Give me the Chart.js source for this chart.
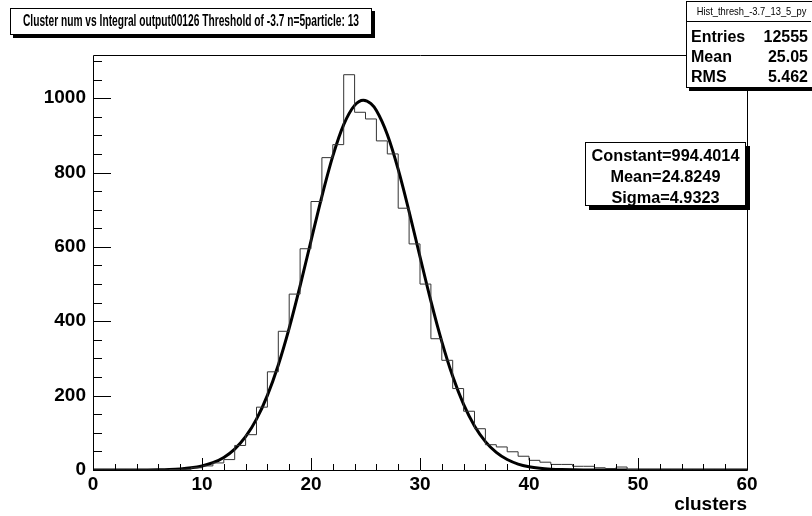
<!DOCTYPE html>
<html>
<head>
<meta charset="utf-8">
<script src="https://cdn.jsdelivr.net/npm/chart.js@4/dist/chart.umd.min.js"></script>
<style>
html,body{margin:0;padding:0;background:#fff;}
#wrap{position:relative;width:812px;height:516px;overflow:hidden;font-family:"Liberation Sans",Arial,Helvetica,sans-serif;color:#000;}
#c{position:absolute;left:0;top:0;}
.box{position:absolute;background:#fff;border:1px solid #000;box-sizing:border-box;}
#title{left:10px;top:8px;width:362px;height:27px;box-shadow:3px 3px 0 #000;}
#title span{position:absolute;left:0;top:3px;white-space:nowrap;font-weight:bold;font-size:16px;line-height:18px;transform-origin:0 0;}
#stats{left:686px;top:1px;width:128px;height:87px;box-shadow:3px 3px 0 #000;}
#stats .hdr{position:absolute;left:0;top:0;width:124px;height:19px;border-bottom:1px solid #000;text-align:center;font-size:11px;line-height:18px;}
#stats .hdr span{display:inline-block;transform:scaleX(0.85);transform-origin:50% 50%;}
#stats .row{position:absolute;left:4px;width:117px;height:20px;font-weight:bold;font-size:16px;line-height:20px;}
#stats .row .k{position:absolute;left:0;top:0;}
#stats .row .v{position:absolute;right:0;top:0;}
#fit{left:585px;top:142px;width:161px;height:64px;box-shadow:4px 4px 0 #000;text-align:center;font-weight:bold;font-size:16.3px;}
#fit div{height:21px;line-height:21px;}
</style>
</head>
<body>
<div id="wrap">
<canvas id="c" width="812" height="516"></canvas>
<div class="box" id="title"><span id="ttxt">Cluster num vs Integral output00126 Threshold of -3.7 n=5particle: 13</span></div>
<div class="box" id="stats">
  <div class="hdr"><span>Hist_thresh_-3.7_13_5_py</span></div>
  <div class="row" style="top:25px"><span class="k">Entries</span><span class="v">12555</span></div>
  <div class="row" style="top:45px"><span class="k">Mean</span><span class="v">25.05</span></div>
  <div class="row" style="top:65px"><span class="k">RMS</span><span class="v">5.462</span></div>
</div>
<div class="box" id="fit">
  <div style="margin-top:2px">Constant=994.4014</div>
  <div>Mean=24.8249</div>
  <div>Sigma=4.9323</div>
</div>
</div>
<script>
// Histogram bin contents, bins [i, i+1) for i = 0..59
const binCounts = [
  0, 0, 0, 0, 0, 0, 0, 1, 2, 6,
  11, 19, 28, 66, 95, 169, 264, 373, 473, 595,
  722, 840, 875, 1063, 962, 944, 885, 850, 704, 608,
  500, 353, 295, 219, 158, 111, 68, 62, 49, 37,
  26, 21, 15, 15, 10, 10, 6, 4, 8, 1,
  0, 0, 0, 0, 0, 0, 0, 0, 0, 0
];
// Gaussian fit curve
const fitX = [0, 4, 5, 6, 7, 8, 9, 10, 11, 12, 13, 14, 15, 16, 17, 18, 19, 20, 21, 22, 23, 24, 24.8, 25.5, 26, 27, 28, 29, 30, 31, 32, 33, 34, 35, 36, 37, 38, 39, 40, 41, 42, 43, 44, 45, 50, 60];
const fitY = [0, 0.1, 0.3, 0.7, 1.5, 3.0, 5.8, 10.9, 19.6, 33.8, 56.2, 89.5, 136.7, 200.7, 282.5, 381.7, 495.1, 616.2, 736.1, 843.9, 928.6, 980.6, 994.4, 985.1, 966.6, 902.2, 808.4, 695.0, 573.5, 454.1, 345.2, 251.8, 176.3, 118.5, 76.4, 47.3, 28.1, 16.0, 8.8, 4.6, 2.3, 1.1, 0.5, 0.2, 0, 0];
const xRange = [0, 60];
const yRange = [0, 1116];
const xLabelStep = 10;
const yLabelStep = 200;
const xAxisTitle = 'clusters';

// fit title text to its box width
(function(){
  const s = document.getElementById('ttxt');
  const w = s.getBoundingClientRect().width;
  const target = 336;
  const k = target / w;
  s.style.transform = 'scaleX(' + k + ')';
  s.style.left = ((362 - target) / 2 - 1) + 'px';
})();

const histPoints = binCounts.map((c, i) => ({x: i, y: c}));
histPoints.push({x: binCounts.length, y: 0});
const fitPoints = fitX.map((x, i) => ({x: x, y: fitY[i]}));

const rootAxes = {
  id: 'rootAxes',
  afterDatasetsDraw(chart) {
    const {ctx, chartArea: a, scales: {x, y}} = chart;
    ctx.save();
    ctx.strokeStyle = '#000';
    ctx.lineWidth = 1;
    ctx.beginPath();
    ctx.rect(Math.round(a.left) + 0.5, Math.round(a.top) + 0.5, Math.round(a.right - a.left), Math.round(a.bottom - a.top));
    ctx.stroke();
    ctx.beginPath();
    for (let v = yRange[0]; v <= 1100; v += 50) {
      const py = Math.round(y.getPixelForValue(v)) + 0.5;
      const len = (v % 200 === 0) ? 18 : 9;
      ctx.moveTo(a.left, py); ctx.lineTo(a.left + len, py);
    }
    for (let v = xRange[0]; v <= xRange[1]; v += 2) {
      const px = Math.round(x.getPixelForValue(v)) + 0.5;
      const len = (v % 10 === 0) ? 12 : 6;
      ctx.moveTo(px, a.bottom); ctx.lineTo(px, a.bottom - len);
    }
    ctx.stroke();
    ctx.restore();
  }
};

const tickFont = {family: '"Liberation Sans", Arial, sans-serif', size: 19, weight: 'bold'};

new Chart(document.getElementById('c'), {
  type: 'line',
  data: {
    datasets: [
      {
        label: 'hist',
        data: histPoints,
        stepped: true,
        borderColor: '#333',
        borderWidth: 1,
        pointRadius: 0,
        fill: false
      },
      {
        label: 'fit',
        data: fitPoints,
        borderColor: '#000',
        borderWidth: 3,
        pointRadius: 0,
        cubicInterpolationMode: 'monotone',
        fill: false
      }
    ]
  },
  options: {
    responsive: false,
    animation: false,
    devicePixelRatio: 1,
    layout: {padding: {top: 55, right: 65, left: 0, bottom: 0}},
    plugins: {legend: {display: false}, tooltip: {enabled: false}, title: {display: false}},
    scales: {
      x: {
        type: 'linear',
        min: xRange[0], max: xRange[1],
        grid: {display: false, drawTicks: false},
        border: {display: false},
        ticks: {stepSize: xLabelStep, font: tickFont, color: '#000', padding: 3, maxRotation: 0, includeBounds: false,
                callback: v => String(v)},
        title: {display: true, text: xAxisTitle, align: 'end', font: tickFont, color: '#000', padding: {top: 0, bottom: 0}},
        afterFit(s) { s.height = 46; }
      },
      y: {
        type: 'linear',
        min: yRange[0], max: yRange[1],
        grid: {display: false, drawTicks: false},
        border: {display: false},
        ticks: {stepSize: yLabelStep, font: tickFont, color: '#000', padding: 7, includeBounds: false,
                callback: v => String(v)},
        afterFit(s) { s.width = 93; }
      }
    }
  },
  plugins: [rootAxes]
});
</script>
</body>
</html>
